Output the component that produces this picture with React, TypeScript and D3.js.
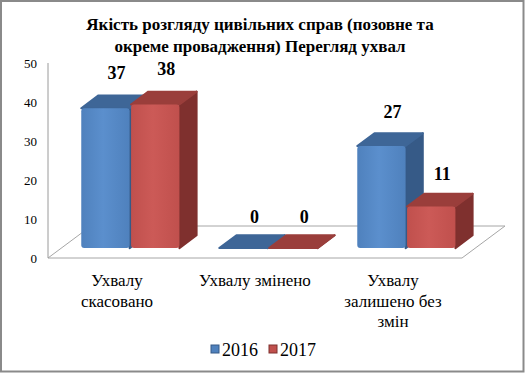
import * as d3 from 'd3';

const categories = ['Ухвалу скасовано', 'Ухвалу змінено', 'Ухвалу залишено без змін'];
const categoryLines = [['Ухвалу', 'скасовано'], ['Ухвалу змінено'], ['Ухвалу', 'залишено без', 'змін']];
const series = ['2016', '2017'];
const values2016 = [37, 0, 27];
const values2017 = [38, 0, 11];
const yTicks = [0, 10, 20, 30, 40, 50];
const titleLines = ['Якість розгляду цивільних справ (позовне та', 'окреме провадження) Перегляд ухвал'];

const colors: Record<string, { front: string; light: string; top: string; side: string }> = {
    '2016': { front: '#4F81BD', light: '#5B8FCD', top: '#3E6697', side: '#365A87' },
    '2017': { front: '#C0504D', light: '#CC5A57', top: '#9A3E3B', side: '#7F302E' },
};

const width = 525;
const height = 373;
const font = 'Liberation Serif';

// floor of the 3d plot
const left = 48;
const right = 462;
const floorY = 258;
const depthX = 43;
const depthY = -32;
// bars stand from t0 to t1 of the floor depth
const t0 = 0.31;
const t1 = 0.71;
const offX = depthX * t0;
const baseY = floorY + depthY * t0;
const ddx = depthX * (t1 - t0);
const ddy = depthY * (t1 - t0);

export default function App() {
    const y = d3.scaleLinear().domain([0, 50]).range([floorY, 63]);
    const yBar = d3.scaleLinear().domain([0, 50]).range([baseY, baseY - 50 * 3.78]);
    const x0 = d3.scaleBand().domain(categories).range([left, right]);
    const x1 = d3
        .scaleBand()
        .domain(series)
        .range([0, x0.bandwidth()])
        .paddingInner(0.03)
        .paddingOuter(0.4);
    const w = x1.bandwidth();

    const bars = categories.flatMap((c, i) => [
        { c, s: '2016', v: values2016[i] },
        { c, s: '2017', v: values2017[i] },
    ]);

    return (
        <svg width={width} height={height} style={{ position: 'absolute', left: 0, top: 0 }}>
            <defs>
                {series.map((s) => (
                    <linearGradient key={s} id={`grad${s}`} x1="0" x2="1" y1="0" y2="0">
                        <stop offset="0" stopColor={colors[s].front} />
                        <stop offset="0.45" stopColor={colors[s].light} />
                        <stop offset="1" stopColor={colors[s].front} />
                    </linearGradient>
                ))}
            </defs>

            {/* outer border */}
            <rect x={1} y={1} width={width - 2.5} height={height - 2.5} fill="#fff" stroke="#8a8a8a" strokeWidth={2} />

            {/* title */}
            <text textAnchor="middle" fontFamily={font} fontWeight="bold" fontSize={17}>
                {titleLines.map((t, i) => (
                    <tspan key={i} x={260} y={30 + i * 22}>
                        {t}
                    </tspan>
                ))}
            </text>

            {/* floor */}
            <path
                d={`M${left},${floorY}L${right},${floorY}L${right + depthX},${floorY + depthY}L${left + depthX},${floorY + depthY}Z`}
                fill="none"
                stroke="#a6a6a6"
            />

            {/* value axis */}
            <line x1={left} x2={left} y1={y(50)} y2={floorY} stroke="#9a9a9a" />
            {yTicks.map((t) => (
                <text key={t} x={37} y={y(t) + 4.5} textAnchor="end" fontFamily={font} fontSize={13}>
                    {t}
                </text>
            ))}

            {/* bars */}
            {bars.map((b, i) => {
                const fx = x0(b.c)! + x1(b.s)! + offX;
                const top = yBar(b.v);
                const col = colors[b.s];
                return (
                    <g key={i}>
                        <path
                            d={`M${fx + w},${top}L${fx + w + ddx},${top + ddy}L${fx + w + ddx},${baseY + ddy}L${fx + w},${baseY}Z`}
                            fill={col.side}
                            stroke={col.side}
                            strokeLinejoin="round"
                            strokeWidth={2}
                        />
                        <path
                            d={`M${fx},${top}L${fx + ddx},${top + ddy}L${fx + w + ddx},${top + ddy}L${fx + w},${top}Z`}
                            fill={col.top}
                            stroke={col.top}
                            strokeLinejoin="round"
                            strokeWidth={2}
                        />
                        {b.v > 0 && (
                            <rect x={fx} y={top} width={w} height={baseY - top} rx={3} fill={`url(#grad${b.s})`} />
                        )}
                    </g>
                );
            })}

            {/* data labels */}
            {bars.map((b, i) => (
                <text
                    key={i}
                    x={x0(b.c)! + x1(b.s)! + offX + w / 2 + 11}
                    y={y(b.v) - 35}
                    textAnchor="middle"
                    fontFamily={font}
                    fontWeight="bold"
                    fontSize={18}
                >
                    {b.v}
                </text>
            ))}

            {/* category labels */}
            {categories.map((c, i) => (
                <text key={c} textAnchor="middle" fontFamily={font} fontSize={17}>
                    {categoryLines[i].map((t, j) => (
                        <tspan key={j} x={x0(c)! + x0.bandwidth() / 2} y={286 + j * 20.5}>
                            {t}
                        </tspan>
                    ))}
                </text>
            ))}

            {/* legend */}
            {series.map((s, i) => {
                const lx = 211 + i * 58;
                return (
                    <g key={s}>
                        <rect x={lx} y={345} width={8} height={8} fill={colors[s].front} stroke={colors[s].side} />
                        <text x={lx + 11} y={356} fontFamily={font} fontSize={18}>
                            {s}
                        </text>
                    </g>
                );
            })}
        </svg>
    );
}
